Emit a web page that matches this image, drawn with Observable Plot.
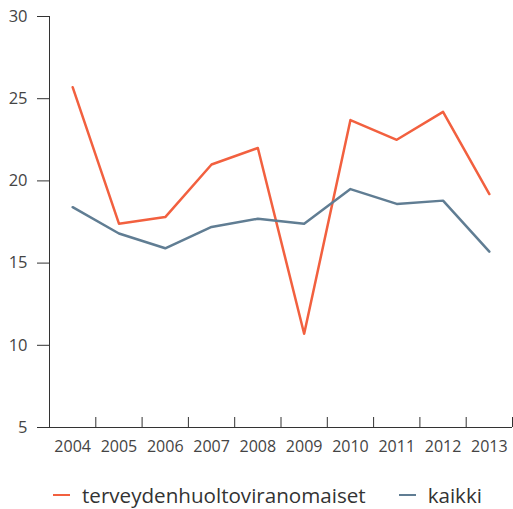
<!DOCTYPE html>
<html>
<head>
<meta charset="utf-8">
<script src="https://cdn.jsdelivr.net/npm/d3@7"></script>
<script src="https://cdn.jsdelivr.net/npm/@observablehq/plot@0.6"></script>
<style>
  body { margin: 0; background: #fff; font-family: "Open Sans", sans-serif; }
  #legend { display: flex; align-items: center; font-size: 20.6px; color: #333; margin-top: 20px; padding-left: 53px; }
  .item { display: flex; align-items: center; margin-right: 33px; }
  .sw { width: 17px; height: 2.5px; margin-right: 12px; }
</style>
</head>
<body>
<div id="chart"></div>
<div id="legend"></div>
<script>
const years = [2004, 2005, 2006, 2007, 2008, 2009, 2010, 2011, 2012, 2013];
const terveys = [25.7, 17.4, 17.8, 21.0, 22.0, 10.7, 23.7, 22.5, 24.2, 19.2];
const kaikki = [18.4, 16.8, 15.9, 17.2, 17.7, 17.4, 19.5, 18.6, 18.8, 15.7];
const seriesNames = ["terveydenhuoltoviranomaiset", "kaikki"];
const colors = ["#f2603f", "#607d93"];
const yTicks = [5, 10, 15, 20, 25, 30];

const data = [];
years.forEach((yr, i) => {
  data.push({year: yr, value: terveys[i], series: seriesNames[0]});
  data.push({year: yr, value: kaikki[i], series: seriesNames[1]});
});
const boundaries = d3.range(years[0] - 0.5, years[years.length - 1] + 1, 1);

const chart = Plot.plot({
  width: 513,
  height: 461,
  marginLeft: 49,
  marginRight: 1,
  marginTop: 16,
  marginBottom: 34,
  style: {fontFamily: "'Open Sans', sans-serif", color: "#333"},
  x: {domain: [years[0] - 0.5, years[years.length - 1] + 0.5]},
  y: {domain: [5, 30]},
  color: {domain: seriesNames, range: colors},
  marks: [
    Plot.axisY({ticks: yTicks, tickSize: 12, tickPadding: 10, fontSize: 16.5, label: null, tickFormat: d => d, stroke: "#333", color: "#444"}),
    Plot.axisX({ticks: years, tickSize: 0, tickPadding: 13, fontSize: 16, label: null, tickFormat: d => String(d), color: "#444"}),
    Plot.axisX({ticks: boundaries, tickSize: -10, tickFormat: () => "", label: null, stroke: "#333"}),
    Plot.ruleY([5], {stroke: "#333"}),
    Plot.ruleX([years[0] - 0.5], {stroke: "#333"}),
    Plot.line(data, {x: "year", y: "value", stroke: "series", z: "series", strokeWidth: 2.5})
  ]
});
document.getElementById("chart").appendChild(chart);

const legend = document.getElementById("legend");
seriesNames.forEach((n, i) => {
  const it = document.createElement("div");
  it.className = "item";
  it.innerHTML = `<span class="sw" style="background:${colors[i]}"></span><span>${n}</span>`;
  legend.appendChild(it);
});
</script>
</body>
</html>
